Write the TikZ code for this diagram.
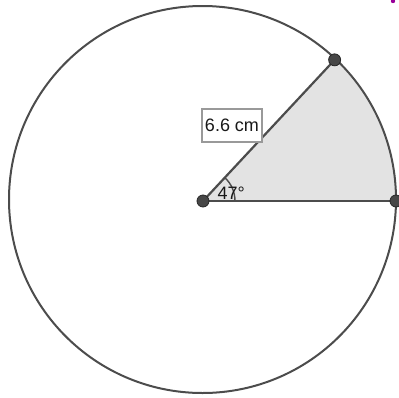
\documentclass[tikz,border=0pt]{standalone}
\usepackage{fontspec}
\setmainfont{Liberation Sans}
\usetikzlibrary{calc,backgrounds}
\begin{document}
\begin{tikzpicture}[x=1pt,y=-1pt,
  edge/.style={draw=black!70,line width=2.2pt},
  pt/.style={circle,fill=black!72,draw=black!85,line width=0.8pt,inner sep=0pt,minimum size=12pt},
  lbl/.style={font=\fontsize{18}{20}\selectfont,text=black!90}]
\useasboundingbox (0,0) rectangle (399,397);
\coordinate (O) at (203,201);
\coordinate (C) at (202.5,199.5);
% points
\node[pt] (P0) at (O) {};
\node[pt] (P1) at ($(O)+(0:193)$) {};
\node[pt] (P2) at ($(O)+(-47:193)$) {};
\begin{scope}[on background layer]
% sector
\fill[black!11] (O) -- ++(0:193) arc[start angle=0,end angle=-47,radius=193] -- cycle;
% circle
\draw[black!70,line width=2pt] (C) circle[radius=193.5];
% angle marker
\draw[black!70,line width=1.4pt] ($(O)+(0:32)$) arc[start angle=0,end angle=-47,radius=32];
% radii
\draw[edge] (P0.center) -- (P1.center);
\draw[edge] (P0.center) -- (P2.center);
\end{scope}
% labels
\node[lbl,draw=black!40,line width=1.4pt,fill=white,minimum width=60pt,minimum height=33pt,inner sep=2pt] (L) at (232,125.5) {6.6 cm};
\node[lbl,anchor=base west,inner sep=0pt] (A) at (217.5,199.5) {47°};
% stray mark
\fill[violet!80!magenta] (393,1) circle[radius=2.2];
\end{tikzpicture}
\end{document}
